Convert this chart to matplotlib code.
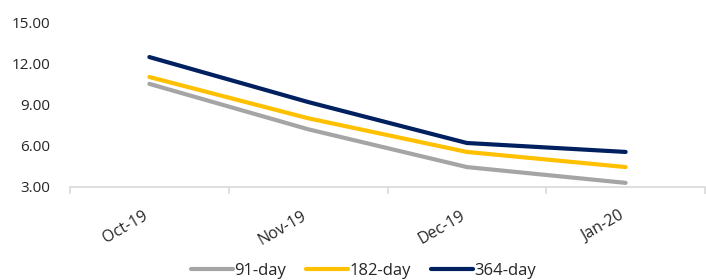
import numpy as np
import matplotlib.pyplot as plt
import matplotlib.transforms as mtransforms

plt.rcParams['font.family'] = ['Open Sans', 'DejaVu Sans']

months = ['Oct-19', 'Nov-19', 'Dec-19', 'Jan-20']
day91 = [10.50, 7.20, 4.45, 3.30]
day182 = [11.00, 8.00, 5.55, 4.45]
day364 = [12.45, 9.18, 6.20, 5.55]

fig = plt.figure(figsize=(7.06, 2.8), dpi=100)
ax = fig.add_axes([70 / 706, 1 - 187 / 280, 635 / 706, 165 / 280])

x = np.arange(len(months))
ax.plot(x, day91, color='#A5A5A5', lw=3, solid_capstyle='round', label='91-day')
ax.plot(x, day182, color='#FFC000', lw=3, solid_capstyle='round', label='182-day')
ax.plot(x, day364, color='#002060', lw=3, solid_capstyle='round', label='364-day')

ax.set_xlim(-0.5, len(months) - 0.5)
ax.set_ylim(3, 15)
ax.set_yticks([3, 6, 9, 12, 15])
ax.set_yticklabels([f'{v:.2f}' for v in [3, 6, 9, 12, 15]])

for s in ['top', 'right', 'left']:
    ax.spines[s].set_visible(False)
ax.spines['bottom'].set_color('#D9D9D9')
ax.spines['bottom'].set_linewidth(1.2)

ax.set_xticks(x)
ax.set_xticklabels(months, rotation=30, ha='right', rotation_mode='anchor')
ax.tick_params(axis='x', length=0, pad=15, labelsize=11.5, colors='#262626')
# shift category labels a little left, like the original
shift = mtransforms.ScaledTranslation(-7 / 100, 0, fig.dpi_scale_trans)
for lbl in ax.get_xticklabels():
    lbl.set_transform(lbl.get_transform() + shift)
ax.set_xticks(np.arange(-0.5, len(months)), minor=True)
ax.tick_params(axis='x', which='minor', length=5, color='#D9D9D9', width=1.2)
ax.tick_params(axis='y', length=0, pad=14, labelsize=11, colors='#262626')

fig.legend(loc='center', bbox_to_anchor=(0.515, 1 - 271 / 280), ncol=3, frameon=False,
           fontsize=12, handlelength=2.5, handletextpad=0.1, columnspacing=1.2,
           labelcolor='#262626')

fig.savefig('out.png', dpi=100)
